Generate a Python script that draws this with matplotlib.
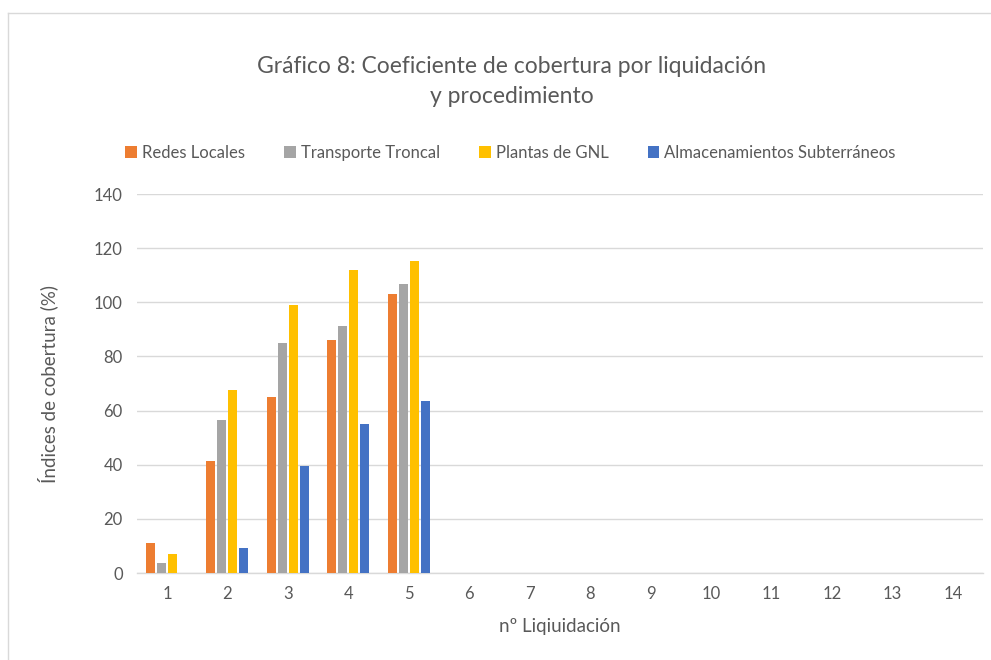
import numpy as np
import matplotlib
matplotlib.use("Agg")
import matplotlib.pyplot as plt
from matplotlib.lines import Line2D

plt.rcParams['font.family'] = ['Lato', 'DejaVu Sans']

# datos
liquidaciones = list(range(1, 15))
redes_locales = [11.0, 41.3, 65.2, 86.0, 102.9]
transporte_troncal = [3.8, 56.4, 84.8, 91.2, 106.7]
plantas_gnl = [7.2, 67.5, 99.1, 111.9, 115.3]
almacenamientos = [0.0, 9.4, 39.7, 55.0, 63.6]

series = [
    ('Redes Locales', redes_locales, '#ED7D31'),
    ('Transporte Troncal', transporte_troncal, '#A5A5A5'),
    ('Plantas de GNL', plantas_gnl, '#FFC000'),
    ('Almacenamientos Subterráneos', almacenamientos, '#4472C4'),
]

txt = '#595959'
grid = '#D9D9D9'

fig = plt.figure(figsize=(9.91, 6.60), dpi=100)
ax = fig.add_axes([0.138, 0.1318, 0.854, 0.5742])

x = np.arange(len(liquidaciones))
step = 0.182
width = 0.15
for i, (name, vals, col) in enumerate(series):
    pos = x[:len(vals)] + (i - 1.5) * step
    ax.bar(pos, vals, width=width, color=col, label=name, zorder=3)

ax.set_xlim(-0.5, len(liquidaciones) - 0.5)
ax.set_ylim(0, 140)
ax.set_yticks(range(0, 141, 20))
ax.set_xticks(x)
ax.set_xticklabels([str(v) for v in liquidaciones])
ax.yaxis.grid(True, color=grid, linewidth=1, zorder=0)
for s in ['top', 'right', 'left']:
    ax.spines[s].set_visible(False)
ax.spines['bottom'].set_color(grid)
ax.spines['bottom'].set_linewidth(1)
ax.tick_params(axis='both', length=0, colors=txt, labelsize=12)
ax.tick_params(axis='x', pad=9)
ax.tick_params(axis='y', pad=10)

ax.set_xlabel('nº Liqiuidación', color=txt, fontsize=13.5, labelpad=12)
ax.set_ylabel('Índices de cobertura (%)', color=txt, fontsize=13.5, labelpad=26)

fig.text(0.5165, 0.877, 'Gráfico 8: Coeficiente de cobertura por liquidación\ny procedimiento',
         ha='center', va='center', fontsize=16.5, color=txt, linespacing=1.55)

leg = fig.legend(loc='center', bbox_to_anchor=(0.515, 0.768), ncol=4, frameon=False,
                 fontsize=12, handlelength=0.7, handleheight=0.7, handletextpad=0.3,
                 columnspacing=2.35)
for t in leg.get_texts():
    t.set_color(txt)

# marco del grafico
fig.add_artist(Line2D([8 / 991, 1], [1 - 12.5 / 660, 1 - 12.5 / 660], color=grid, linewidth=1))
fig.add_artist(Line2D([8 / 991, 8 / 991], [0, 1 - 12.5 / 660], color=grid, linewidth=1))

fig.savefig('out.png', dpi=100)
